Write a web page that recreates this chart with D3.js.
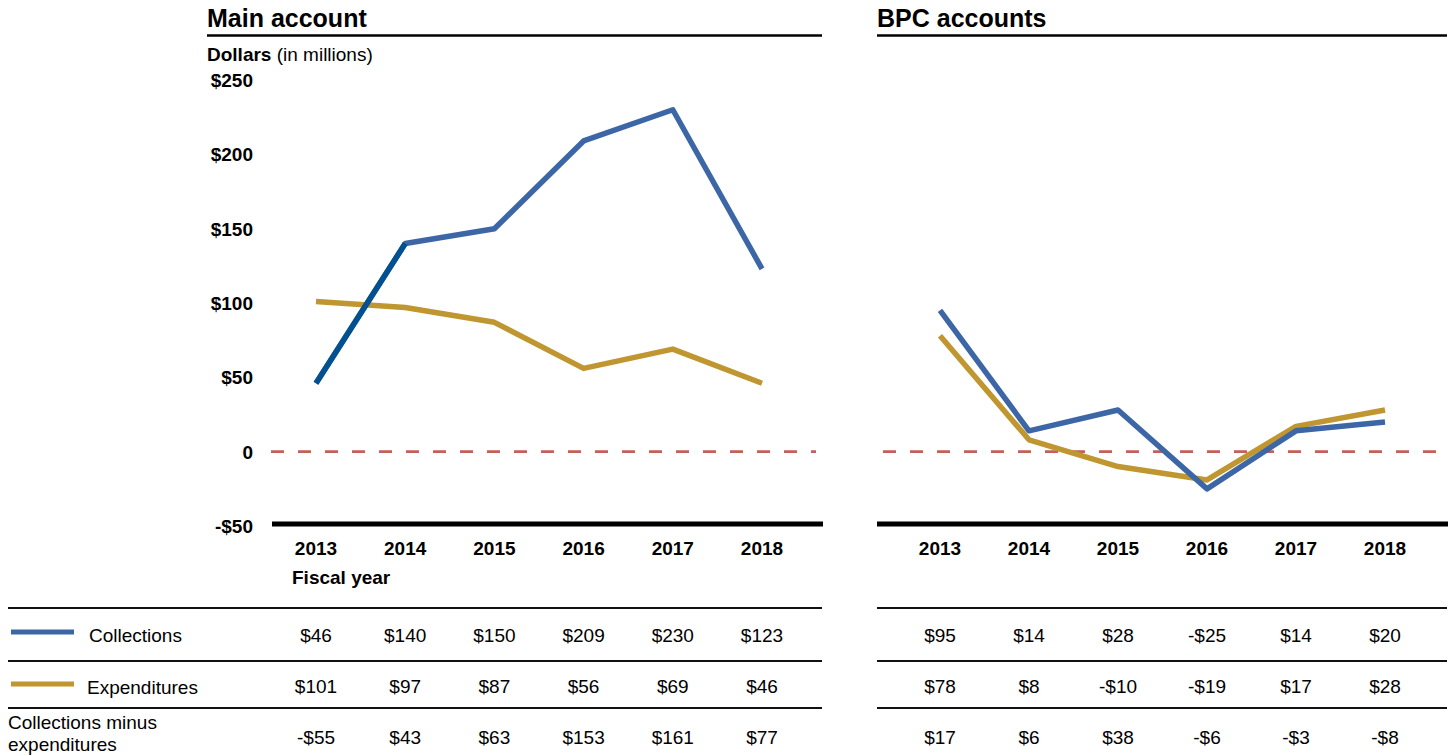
<!DOCTYPE html>
<html>
<head>
<meta charset="utf-8">
<script src="https://cdn.jsdelivr.net/npm/d3@7"></script>
<style>
    body { margin: 0; background: #fff; }
    svg { font-family: 'Liberation Sans', Arial, sans-serif; }
</style>
</head>
<body>
<svg width="1453" height="756"></svg>
<script>
// data
const years = ['2013', '2014', '2015', '2016', '2017', '2018'];
const mainCollections = [46, 140, 150, 209, 230, 123];
const mainExpenditures = [101, 97, 87, 56, 69, 46];
const mainDifference = [-55, 43, 63, 153, 161, 77];
const bpcCollections = [95, 14, 28, -25, 14, 20];
const bpcExpenditures = [78, 8, -10, -19, 17, 28];
const bpcDifference = [17, 6, 38, -6, -3, -8];
const yTicks = [250, 200, 150, 100, 50, 0, -50];

const blue = '#3c66a5';
const darkBlue = '#01508f';
const gold = '#bf962f';
const fs = '19px';

const svg = d3.select('svg');

const fmt = function(v) {
    return v === 0 ? '0' : (v < 0 ? '-$' : '$') + Math.abs(v);
};

const yScale = d3.scaleLinear().domain([-50, 250]).range([526, 80]);

const panels = [
    {
        title: 'Main account',
        x0: 207, x1: 822, axisStart: 272, tableStart: 8,
        range: [316, 762],
        coll: mainCollections, exp: mainExpenditures, diff: mainDifference
    },
    {
        title: 'BPC accounts',
        x0: 877, x1: 1447, axisStart: 877, tableStart: 877,
        range: [940, 1385],
        coll: bpcCollections, exp: bpcExpenditures, diff: bpcDifference
    }
];

panels.forEach(function(p, pi) {
    const g = svg.append('g');
    const xScale = d3.scalePoint().domain(years).range(p.range);

    // title + rule
    g.append('text')
        .attr('x', p.x0)
        .attr('y', 27)
        .style('font-size', '25px')
        .style('font-weight', 'bold')
        .text(p.title);
    g.append('line')
        .attr('x1', p.x0).attr('x2', p.x1)
        .attr('y1', 35.5).attr('y2', 35.5)
        .attr('stroke', '#000')
        .attr('stroke-width', 2.4);

    // zero line
    g.append('line')
        .attr('x1', pi === 0 ? 271 : 883)
        .attr('x2', pi === 0 ? 816 : 1442)
        .attr('y1', yScale(0)).attr('y2', yScale(0))
        .attr('stroke', '#c4605c')
        .attr('stroke-width', 2.6)
        .attr('stroke-dasharray', '13,14');

    // bottom axis
    g.append('line')
        .attr('x1', p.axisStart).attr('x2', p.x1 + 1)
        .attr('y1', 524).attr('y2', 524)
        .attr('stroke', '#000')
        .attr('stroke-width', 5);

    g.selectAll('.year')
        .data(years)
        .enter()
        .append('text')
        .attr('x', function(d) { return xScale(d); })
        .attr('y', 555)
        .attr('text-anchor', 'middle')
        .style('font-size', fs)
        .style('font-weight', 'bold')
        .text(function(d) { return d; });

    const line = d3.line()
        .x(function(d, i) { return xScale(years[i]); })
        .y(function(d) { return yScale(d); });

    g.append('path')
        .datum(p.exp)
        .attr('d', line)
        .attr('fill', 'none')
        .attr('stroke', gold)
        .attr('stroke-width', 5.5)
        .attr('stroke-linejoin', 'round');

    g.append('path')
        .datum(p.coll)
        .attr('d', line)
        .attr('fill', 'none')
        .attr('stroke', blue)
        .attr('stroke-width', 5.5)
        .attr('stroke-linejoin', 'round');

    if (pi === 0) {
        // first segment drawn darker in the original
        g.append('path')
            .datum(p.coll.slice(0, 2))
            .attr('d', line)
            .attr('fill', 'none')
            .attr('stroke', darkBlue)
            .attr('stroke-width', 5.5);
    }

    // table rules
    [608, 661, 708].forEach(function(y) {
        g.append('line')
            .attr('x1', p.tableStart).attr('x2', p.x1)
            .attr('y1', y).attr('y2', y)
            .attr('stroke', '#111')
            .attr('stroke-width', 1.8);
    });

    // table values
    [[p.coll, 642], [p.exp, 693], [p.diff, 744]].forEach(function(row) {
        g.selectAll(null)
            .data(row[0])
            .enter()
            .append('text')
            .attr('x', function(d, i) { return xScale(years[i]); })
            .attr('y', row[1])
            .attr('text-anchor', 'middle')
            .style('font-size', fs)
            .text(fmt);
    });
});

// y axis labels
svg.append('text')
    .attr('x', 207)
    .attr('y', 61)
    .style('font-size', fs)
    .call(function(t) {
        t.append('tspan').style('font-weight', 'bold').text('Dollars');
        t.append('tspan').text(' (in millions)');
    });

svg.selectAll('.ytick')
    .data(yTicks)
    .enter()
    .append('text')
    .attr('x', 253)
    .attr('y', function(d) { return yScale(d) + 7; })
    .attr('text-anchor', 'end')
    .style('font-size', fs)
    .style('font-weight', 'bold')
    .text(fmt);

svg.append('text')
    .attr('x', 292)
    .attr('y', 584)
    .style('font-size', fs)
    .style('font-weight', 'bold')
    .text('Fiscal year');

// legend rows
const legendRows = [
    { label: 'Collections', color: blue, y: 632, tx: 89 },
    { label: 'Expenditures', color: gold, y: 684, tx: 87 }
];
legendRows.forEach(function(r) {
    svg.append('line')
        .attr('x1', 11).attr('x2', 74)
        .attr('y1', r.y).attr('y2', r.y)
        .attr('stroke', r.color)
        .attr('stroke-width', 5);
    svg.append('text')
        .attr('x', r.tx)
        .attr('y', r.y + 10)
        .style('font-size', fs)
        .text(r.label);
});

svg.append('text')
    .attr('x', 8)
    .attr('y', 729)
    .style('font-size', fs)
    .text('Collections minus');
svg.append('text')
    .attr('x', 8)
    .attr('y', 751)
    .style('font-size', fs)
    .text('expenditures');
</script>
</body>
</html>
